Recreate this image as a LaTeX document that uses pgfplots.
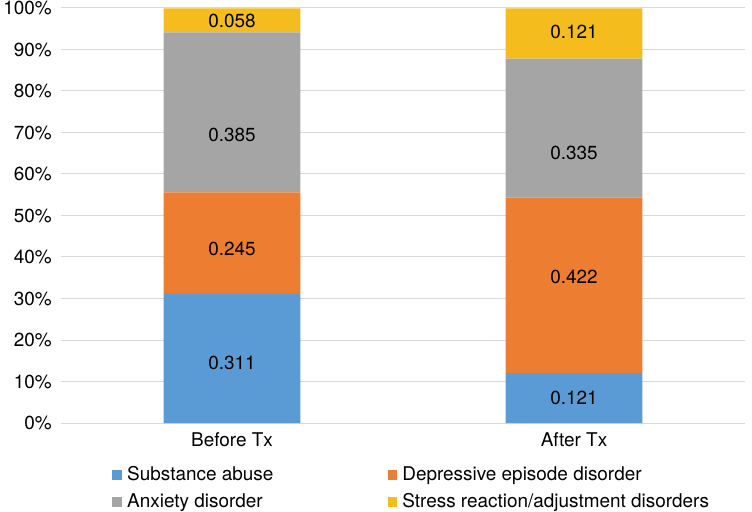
\documentclass[border=0pt]{standalone}
\usepackage{pgfplots}
\pgfplotsset{compat=1.18}
\usepackage{fontspec}
\setmainfont{TeX Gyre Heros}
\definecolor{cblue}{RGB}{91,155,213}
\definecolor{corange}{RGB}{237,125,49}
\definecolor{cgray}{RGB}{165,165,165}
\definecolor{cyellow}{RGB}{245,188,30}
\definecolor{cgrid}{RGB}{217,217,217}
\begin{document}
\begin{tikzpicture}[font=\fontsize{19}{23}\selectfont]
\path[use as bounding box] (-61bp,-89bp) rectangle (691bp,423bp);
\pgfplotsset{common/.style={
  scale only axis, width=684bp, height=415bp,
  anchor=south west, at={(0,0)},
  xmin=-0.5, xmax=1.5, ymin=0, ymax=1,
}}
\begin{axis}[common,
  ybar stacked, bar width=0.4,
  axis line style={draw=none},
  major tick length=0pt,
  xtick={0,1}, xticklabels={Before Tx, After Tx},
  ytick={0,0.1,0.2,0.3,0.4,0.5,0.6,0.7,0.8,0.9,1},
  yticklabels={0\%,10\%,20\%,30\%,40\%,50\%,60\%,70\%,80\%,90\%,100\%},
  yticklabel style={inner sep=0pt, xshift=-9bp},
  xticklabel style={inner sep=0pt, yshift=-9bp},
  /pgf/number format/assume math mode=true,
  ymajorgrids, grid style={cgrid, line width=1bp},
  legend columns=2,
  legend image code/.code={\fill[#1] (0bp,0.3bp) rectangle (9.5bp,9.8bp);},
  legend style={at={(0.07456,-0.10434)}, anchor=north west, draw=none, fill=none,
    inner sep=0pt, row sep=13.3bp,
    nodes={inner sep=0pt, text height=13.7bp, text depth=0pt, anchor=base west},
    /tikz/column 1/.style={column sep=5.5bp},
    /tikz/column 2/.style={column sep=114.5bp},
    /tikz/column 3/.style={column sep=5bp}},
]
\addplot[fill=cblue, draw=none] coordinates {(0,0.311) (1,0.121)};
\addplot[fill=corange, draw=none] coordinates {(0,0.245) (1,0.422)};
\addplot[fill=cgray, draw=none] coordinates {(0,0.385) (1,0.335)};
\addplot[fill=cyellow, draw=none] coordinates {(0,0.058) (1,0.121)};
\legend{Substance abuse, Depressive episode disorder, Anxiety disorder, Stress reaction/adjustment disorders}
\end{axis}
\begin{axis}[common, hide axis]
\addplot[only marks, mark=none, nodes near coords, point meta=explicit symbolic,
  every node near coord/.append style={anchor=center, inner sep=0pt, black}]
  coordinates {
  (0,0.1446)[0.311] (0,0.4193)[0.245] (0,0.694)[0.385] (0,0.9687)[0.058]
  (1,0.0602)[0.121] (1,0.3525)[0.422] (1,0.6506)[0.335] (1,0.942)[0.121]
  };
\end{axis}
\end{tikzpicture}
\end{document}
